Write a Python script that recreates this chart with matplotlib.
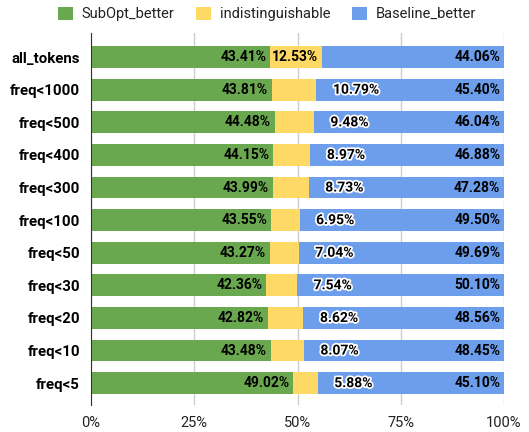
import numpy as np
import matplotlib.pyplot as plt
import matplotlib.patheffects as pe

plt.rcParams['font.family'] = ['Roboto', 'DejaVu Sans']

rows = ['all_tokens', 'freq<1000', 'freq<500', 'freq<400', 'freq<300', 'freq<100',
        'freq<50', 'freq<30', 'freq<20', 'freq<10', 'freq<5']
subopt = [43.41, 43.81, 44.48, 44.15, 43.99, 43.55, 43.27, 42.36, 42.82, 43.48, 49.02]
indist = [12.53, 10.79, 9.48, 8.97, 8.73, 6.95, 7.04, 7.54, 8.62, 8.07, 5.88]
baseline = [44.06, 45.40, 46.04, 46.88, 47.28, 49.50, 49.69, 50.10, 48.56, 48.45, 45.10]

series = ['SubOpt_better', 'indistinguishable', 'Baseline_better']
colors = ['#6aa84f', '#ffd966', '#6d9eeb']

fig = plt.figure(figsize=(5.29, 4.32), dpi=100)
ax = fig.add_axes([91/529, 1 - 405/432, 413/529, 372/432])

y = np.arange(len(rows))
sub = np.array(subopt)
ind = np.array(indist)
bas = np.array(baseline)
lefts = [np.zeros(len(rows)), sub, sub + ind]
vals = [sub, ind, bas]

for v, l, c, name in zip(vals, lefts, colors, series):
    ax.barh(y, v, left=l, height=0.67, color=c, label=name, zorder=2)

bold = dict(fontsize=10, fontweight='bold', va='center', color='black', zorder=4)
outline = [pe.withStroke(linewidth=2.5, foreground='white')]
for i in range(len(rows)):
    ax.text(sub[i] - 0.9, y[i], f'{sub[i]:.2f}%', ha='right', **bold)
    if ind[i] > 11.5:
        ax.text(sub[i] + ind[i] - 0.9, y[i], f'{ind[i]:.2f}%', ha='right', **bold)
    else:
        ax.text(sub[i] + ind[i] + 4.0, y[i], f'{ind[i]:.2f}%', ha='left',
                path_effects=outline, **bold)
    ax.text(100 - 0.9, y[i], f'{bas[i]:.2f}%', ha='right', **bold)

ax.set_xlim(0, 100)
ax.set_ylim(10.67, -0.74)
ax.set_yticks(y)
ax.set_yticklabels(rows, fontweight='bold', fontsize=10.8)
ax.set_xticks([0, 25, 50, 75, 100])
ax.set_xticklabels(['0%', '25%', '50%', '75%', '100%'], fontsize=10.5, color='#222222')
ax.tick_params(length=0, pad=8)
ax.tick_params(axis='y', pad=8)
ax.grid(axis='x', color='#cccccc', linewidth=1, zorder=0)
for s in ['top', 'right', 'bottom']:
    ax.spines[s].set_visible(False)
ax.spines['left'].set_color('#333333')
ax.spines['left'].set_zorder(3)

fig.legend(loc='upper center', bbox_to_anchor=(0.505, 1.015), ncol=3, frameon=False,
           fontsize=10.5, handlelength=1.0, handleheight=1.0, columnspacing=1.5,
           handletextpad=0.6, labelcolor='#222222')

fig.savefig('out.png', dpi=100)
